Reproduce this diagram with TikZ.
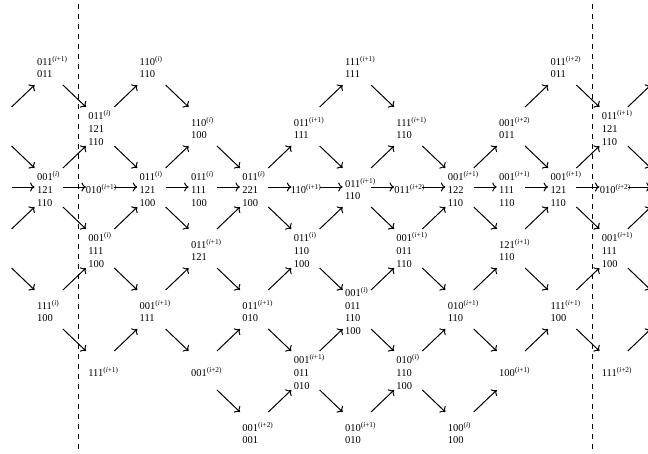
\documentclass[tikz,border=0pt]{standalone}
\usepackage{fontspec}
\setmainfont{Liberation Serif}
\usetikzlibrary{calc,arrows.meta}
\newcommand\supx[1]{\textsuperscript{(\textit{i}#1)}}
\newcommand\cellnode[4][]{\node[gridtxt,#1] (n#2c#3) at ({48.75+51.35*#3},{67+61*#2}) {#4};}
\newcommand\arrUp[2]{\draw[arr] ($(#1)!0.5!(#2)+(-11.5,9.5)$) -- ($(#1)!0.5!(#2)+(11.5,-12.5)$);}
\newcommand\arrDn[2]{\draw[arr] ($(#1)!0.5!(#2)+(-11.5,-12.5)$) -- ($(#1)!0.5!(#2)+(11.5,9.5)$);}
\newcommand\arrH[2]{\draw[arr] ($(#1)!0.5!(#2)+(-11.5,-2)$) -- ($(#1)!0.5!(#2)+(11.5,-2)$);}
\begin{document}
\begin{tikzpicture}[x=1pt,y=-1pt,
  gridtxt/.style={text width=23.5pt, align=left, inner sep=0pt, font=\fontsize{10.5}{12.7}\selectfont},
  arr/.style={-{To[length=4.5pt,width=9pt]}, line width=1pt},
  sepline/.style={line width=0.9pt, dash pattern=on 4.5pt off 5.5pt}]
\useasboundingbox (0,0) rectangle (648,453);
\draw[sepline] (78,4) -- (78,453);
\draw[sepline] (592,4) -- (592,453);
% off-picture cells
\coordinate (n1cL) at ({48.75-51.35},{67+61*1});
\coordinate (n2cL) at ({48.75-51.35},{67+61*2});
\coordinate (n3cL) at ({48.75-51.35},{67+61*3});
\coordinate (n0cR) at ({48.75+51.35*12},{67+61*0});
\coordinate (n2cR) at ({48.75+51.35*12},{67+61*2});
\coordinate (n4cR) at ({48.75+51.35*12},{67+61*4});
% row 0
\cellnode{0}{0}{011\supx{+1}\\011}
\cellnode{0}{2}{110\supx{}\\110}
\cellnode{0}{6}{111\supx{+1}\\111}
\cellnode{0}{10}{011\supx{+2}\\011}
% row 1
\cellnode{1}{1}{011\supx{}\\121\\110}
\cellnode{1}{3}{110\supx{}\\100}
\cellnode{1}{5}{011\supx{+1}\\111}
\cellnode{1}{7}{111\supx{+1}\\110}
\cellnode{1}{9}{001\supx{+2}\\011}
\cellnode{1}{11}{011\supx{+1}\\121\\110}
% row 2
\cellnode{2}{0}{001\supx{}\\121\\110}
\cellnode{2}{1}{\hspace*{-2.5pt}010\supx{+1}}
\cellnode{2}{2}{011\supx{}\\121\\100}
\cellnode{2}{3}{011\supx{}\\111\\100}
\cellnode{2}{4}{011\supx{}\\221\\100}
\cellnode{2}{5}{\hspace*{-3pt}110\supx{+1}}
\cellnode{2}{6}{011\supx{+1}\\110}
\cellnode{2}{7}{\hspace*{-2pt}011\supx{+2}}
\cellnode{2}{8}{001\supx{+1}\\122\\110}
\cellnode{2}{9}{001\supx{+1}\\111\\110}
\cellnode{2}{10}{001\supx{+1}\\121\\110}
\cellnode{2}{11}{\hspace*{-2pt}010\supx{+2}}
% row 3
\cellnode{3}{1}{001\supx{}\\111\\100}
\cellnode{3}{3}{011\supx{+1}\\121}
\cellnode{3}{5}{011\supx{}\\110\\100}
\cellnode{3}{7}{001\supx{+1}\\011\\110}
\cellnode{3}{9}{121\supx{+1}\\110}
\cellnode{3}{11}{001\supx{+1}\\111\\100}
% row 4
\cellnode{4}{0}{111\supx{}\\100}
\cellnode{4}{2}{001\supx{+1}\\111}
\cellnode{4}{4}{011\supx{+1}\\010}
\cellnode{4}{6}{001\supx{}\\011\\110\\100}
\cellnode{4}{8}{010\supx{+1}\\110}
\cellnode{4}{10}{111\supx{+1}\\100}
% row 5
\cellnode{5}{1}{111\supx{+1}}
\cellnode{5}{3}{001\supx{+2}}
\cellnode{5}{5}{001\supx{+1}\\011\\010}
\cellnode{5}{7}{010\supx{}\\110\\100}
\cellnode{5}{9}{100\supx{+1}}
\cellnode{5}{11}{111\supx{+2}}
% row 6
\cellnode{6}{4}{001\supx{+2}\\001}
\cellnode{6}{6}{010\supx{+1}\\010}
\cellnode{6}{8}{100\supx{}\\100}
% horizontal arrows
\arrH{n2cL}{n2c0}
\arrH{n2c0}{n2c1}
\arrH{n2c1}{n2c2}
\arrH{n2c2}{n2c3}
\arrH{n2c3}{n2c4}
\arrH{n2c4}{n2c5}
\arrH{n2c5}{n2c6}
\arrH{n2c6}{n2c7}
\arrH{n2c7}{n2c8}
\arrH{n2c8}{n2c9}
\arrH{n2c9}{n2c10}
\arrH{n2c10}{n2c11}
\arrH{n2c11}{n2cR}
% diagonal arrows
\arrUp{n1cL}{n0c0} \arrDn{n1cL}{n2c0} \arrUp{n3cL}{n2c0} \arrDn{n3cL}{n4c0}
\arrDn{n0c0}{n1c1} \arrUp{n2c0}{n1c1} \arrDn{n2c0}{n3c1} \arrUp{n4c0}{n3c1} \arrDn{n4c0}{n5c1}
\arrUp{n1c1}{n0c2} \arrDn{n1c1}{n2c2} \arrUp{n3c1}{n2c2} \arrDn{n3c1}{n4c2} \arrUp{n5c1}{n4c2}
\arrDn{n0c2}{n1c3} \arrUp{n2c2}{n1c3} \arrDn{n2c2}{n3c3} \arrUp{n4c2}{n3c3} \arrDn{n4c2}{n5c3}
\arrDn{n1c3}{n2c4} \arrUp{n3c3}{n2c4} \arrDn{n3c3}{n4c4} \arrUp{n5c3}{n4c4} \arrDn{n5c3}{n6c4}
\arrUp{n2c4}{n1c5} \arrDn{n2c4}{n3c5} \arrUp{n4c4}{n3c5} \arrDn{n4c4}{n5c5} \arrUp{n6c4}{n5c5}
\arrUp{n1c5}{n0c6} \arrDn{n1c5}{n2c6} \arrUp{n3c5}{n2c6} \arrDn{n3c5}{n4c6} \arrUp{n5c5}{n4c6} \arrDn{n5c5}{n6c6}
\arrDn{n0c6}{n1c7} \arrUp{n2c6}{n1c7} \arrDn{n2c6}{n3c7} \arrUp{n4c6}{n3c7} \arrDn{n4c6}{n5c7} \arrUp{n6c6}{n5c7}
\arrDn{n1c7}{n2c8} \arrUp{n3c7}{n2c8} \arrDn{n3c7}{n4c8} \arrUp{n5c7}{n4c8} \arrDn{n5c7}{n6c8}
\arrUp{n2c8}{n1c9} \arrDn{n2c8}{n3c9} \arrUp{n4c8}{n3c9} \arrDn{n4c8}{n5c9} \arrUp{n6c8}{n5c9}
\arrUp{n1c9}{n0c10} \arrDn{n1c9}{n2c10} \arrUp{n3c9}{n2c10} \arrDn{n3c9}{n4c10} \arrUp{n5c9}{n4c10}
\arrDn{n0c10}{n1c11} \arrUp{n2c10}{n1c11} \arrDn{n2c10}{n3c11} \arrUp{n4c10}{n3c11} \arrDn{n4c10}{n5c11}
\arrUp{n1c11}{n0cR} \arrDn{n1c11}{n2cR} \arrUp{n3c11}{n2cR} \arrDn{n3c11}{n4cR} \arrUp{n5c11}{n4cR}
\end{tikzpicture}
\end{document}
